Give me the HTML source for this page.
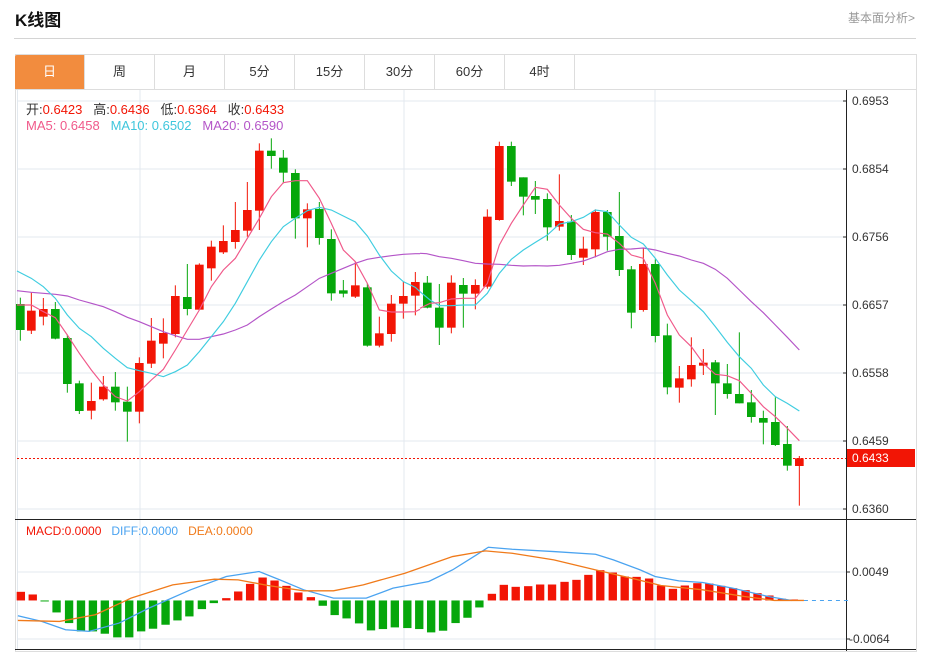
<!DOCTYPE html>
<html><head><meta charset="utf-8">
<style>
body{margin:0;width:929px;height:654px;background:#fff;position:relative;overflow:hidden;font-family:"Liberation Sans","Noto Sans CJK SC",sans-serif;}
.t{position:absolute;white-space:nowrap;}
.tab{position:absolute;top:55px;height:34px;width:70px;line-height:34px;text-align:center;font-size:13px;color:#333;border-right:1px solid #ddd;box-sizing:border-box;}
.ax{position:absolute;left:852px;font-size:12px;color:#333;}
svg{position:absolute;overflow:visible}
.r rect{fill:#f21505}.r line{stroke:#f21505}
.g rect{fill:#06a70b}.g line{stroke:#06a70b}
.r line,.g line{stroke-width:3}
</style></head><body>
<div class="t" style="left:15px;top:6px;font-size:17px;font-weight:bold;color:#111;">K线图</div>
<div class="t" style="left:848px;top:9px;font-size:12px;color:#999;">基本面分析&gt;</div>
<div style="position:absolute;left:14px;top:38px;width:902px;height:1px;background:#d4d4d4"></div>
<div style="position:absolute;left:15px;top:54px;width:900px;height:596px;border:1px solid #ddd;"></div>
<div style="position:absolute;left:15px;top:89px;width:901px;height:1px;background:#ddd"></div>
<div class="tab" style="left:15px;background:#f28c3e;color:#fff;border-radius:2px 0 0 0">日</div>
<div class="tab" style="left:85px">周</div>
<div class="tab" style="left:155px">月</div>
<div class="tab" style="left:225px">5分</div>
<div class="tab" style="left:295px">15分</div>
<div class="tab" style="left:365px">30分</div>
<div class="tab" style="left:435px">60分</div>
<div class="tab" style="left:505px">4时</div>

<svg width="929" height="654" style="left:0;top:0">
 <g stroke="#e3e9ef" stroke-width="1">
  <line x1="17" y1="101" x2="846" y2="101"/>
  <line x1="17" y1="169" x2="846" y2="169"/>
  <line x1="17" y1="237" x2="846" y2="237"/>
  <line x1="17" y1="305" x2="846" y2="305"/>
  <line x1="17" y1="373" x2="846" y2="373"/>
  <line x1="17" y1="441" x2="846" y2="441"/>
  <line x1="17" y1="509" x2="846" y2="509"/>
  <line x1="17.5" y1="90" x2="17.5" y2="650"/>
  <line x1="140" y1="90" x2="140" y2="650"/>
  <line x1="404" y1="90" x2="404" y2="650"/>
  <line x1="655" y1="90" x2="655" y2="650"/>
  <line x1="17" y1="572" x2="846" y2="572"/>
  <line x1="17" y1="639" x2="846" y2="639"/>
 </g>
 <line x1="17" y1="458.5" x2="846" y2="458.5" stroke="#f21505" stroke-width="1" stroke-dasharray="2,2"/>
 <line x1="846.5" y1="90" x2="846.5" y2="651" stroke="#222" stroke-width="1"/>
 <line x1="15" y1="519.5" x2="916" y2="519.5" stroke="#222" stroke-width="1"/>
 <line x1="15" y1="649.5" x2="916" y2="649.5" stroke="#222" stroke-width="1"/>
 <g stroke="#222" stroke-width="1">
  <line x1="843" y1="101" x2="846" y2="101"/><line x1="843" y1="169" x2="846" y2="169"/>
  <line x1="843" y1="237" x2="846" y2="237"/><line x1="843" y1="305" x2="846" y2="305"/>
  <line x1="843" y1="373" x2="846" y2="373"/><line x1="843" y1="441" x2="846" y2="441"/>
  <line x1="843" y1="509" x2="846" y2="509"/><line x1="846" y1="572" x2="850" y2="572"/>
  <line x1="846" y1="639" x2="850" y2="639"/>
 </g>
 <rect x="847" y="449" width="68" height="18" fill="#f21505"/>
</svg>

<div class="ax" style="top:94px">0.6953</div>
<div class="ax" style="top:162px">0.6854</div>
<div class="ax" style="top:230px">0.6756</div>
<div class="ax" style="top:298px">0.6657</div>
<div class="ax" style="top:366px">0.6558</div>
<div class="ax" style="top:434px">0.6459</div>
<div class="ax" style="top:451px;color:#fff">0.6433</div>
<div class="ax" style="top:502px">0.6360</div>
<div class="ax" style="top:565px">0.0049</div>
<div class="ax" style="top:632px;left:849px">-0.0064</div>

<div class="t" style="left:26px;top:99px;font-size:13px;color:#333">开:<span style="color:#f21505">0.6423</span>&nbsp;&nbsp; 高:<span style="color:#f21505">0.6436</span>&nbsp;&nbsp; 低:<span style="color:#f21505">0.6364</span>&nbsp;&nbsp; 收:<span style="color:#f21505">0.6433</span></div>
<div class="t" style="left:26px;top:118px;font-size:13px;"><span style="color:#f0598a">MA5: 0.6458</span>&nbsp;&nbsp; <span style="color:#3fc6dc">MA10: 0.6502</span>&nbsp;&nbsp; <span style="color:#b455c8">MA20: 0.6590</span></div>
<div class="t" style="left:26px;top:524px;font-size:12px;"><span style="color:#f21505">MACD:0.0000</span>&nbsp;&nbsp; <span style="color:#4aa3f0">DIFF:0.0000</span>&nbsp;&nbsp; <span style="color:#f07a1a">DEA:0.0000</span></div>

<svg x="0" y="0" width="420" height="320" viewBox="0 0 1260 960" style="left:0;top:130px">
<g class="g"><line x1="61" y1="503" x2="61" y2="632"/><rect x="48" y="522" width="26" height="78"/></g>
<g class="r"><line x1="94" y1="488" x2="94" y2="612"/><rect x="81" y="542" width="26" height="60"/></g>
<g class="r"><line x1="130" y1="504" x2="130" y2="586"/><rect x="117" y="537" width="26" height="23"/></g>
<g class="g"><line x1="166" y1="516" x2="166" y2="628"/><rect x="153" y="537" width="26" height="89"/></g>
<g class="g"><line x1="202" y1="614" x2="202" y2="788"/><rect x="189" y="624" width="26" height="138"/></g>
<g class="g"><line x1="238" y1="752" x2="238" y2="852"/><rect x="225" y="760" width="26" height="83"/></g>
<g class="r"><line x1="274" y1="758" x2="274" y2="868"/><rect x="261" y="813" width="26" height="29"/></g>
<g class="r"><line x1="310" y1="738" x2="310" y2="812"/><rect x="297" y="770" width="26" height="38"/></g>
<g class="g"><line x1="346" y1="726" x2="346" y2="842"/><rect x="333" y="770" width="26" height="47"/></g>
<g class="g"><line x1="382" y1="770" x2="382" y2="935"/><rect x="369" y="815" width="26" height="30"/></g>
<g class="r"><line x1="418" y1="682" x2="418" y2="880"/><rect x="405" y="699" width="26" height="146"/></g>
<g class="r"><line x1="454" y1="564" x2="454" y2="714"/><rect x="441" y="632" width="26" height="69"/></g>
<g class="r"><line x1="490" y1="565" x2="490" y2="685"/><rect x="477" y="609" width="26" height="32"/></g>
<g class="r"><line x1="526" y1="466" x2="526" y2="622"/><rect x="513" y="498" width="26" height="114"/></g>
<g class="g"><line x1="562" y1="402" x2="562" y2="556"/><rect x="549" y="501" width="26" height="36"/></g>
<g class="r"><line x1="598" y1="400" x2="598" y2="540"/><rect x="585" y="404" width="26" height="135"/></g>
<g class="r"><line x1="634" y1="332" x2="634" y2="452"/><rect x="621" y="350" width="26" height="65"/></g>
<g class="r"><line x1="670" y1="286" x2="670" y2="372"/><rect x="657" y="333" width="26" height="34"/></g>
<g class="r"><line x1="706" y1="216" x2="706" y2="356"/><rect x="693" y="300" width="26" height="36"/></g>
<g class="r"><line x1="742" y1="156" x2="742" y2="320"/><rect x="729" y="240" width="26" height="62"/></g>
<g class="r"><line x1="778" y1="40" x2="778" y2="300"/><rect x="765" y="62" width="26" height="180"/></g>
<g class="g"><line x1="814" y1="25" x2="814" y2="116"/><rect x="801" y="62" width="26" height="16"/></g>
<g class="g"><line x1="850" y1="60" x2="850" y2="160"/><rect x="837" y="83" width="26" height="45"/></g>
<g class="g"><line x1="886" y1="118" x2="886" y2="326"/><rect x="873" y="129" width="26" height="136"/></g>
<g class="r"><line x1="922" y1="220" x2="922" y2="352"/><rect x="909" y="238" width="26" height="27"/></g>
<g class="g"><line x1="958" y1="216" x2="958" y2="344"/><rect x="945" y="237" width="26" height="87"/></g>
<g class="g"><line x1="994" y1="298" x2="994" y2="512"/><rect x="981" y="327" width="26" height="163"/></g>
<g class="g"><line x1="1030" y1="450" x2="1030" y2="502"/><rect x="1017" y="481" width="26" height="10"/></g>
<g class="r"><line x1="1066" y1="396" x2="1066" y2="504"/><rect x="1053" y="466" width="26" height="34"/></g>
<g class="g"><line x1="1102" y1="460" x2="1102" y2="650"/><rect x="1089" y="472" width="26" height="175"/></g>
<g class="r"><line x1="1138" y1="560" x2="1138" y2="652"/><rect x="1125" y="610" width="26" height="37"/></g>
<g class="r"><line x1="1174" y1="495" x2="1174" y2="635"/><rect x="1161" y="521" width="26" height="91"/></g>
<g class="r"><line x1="1210" y1="456" x2="1210" y2="566"/><rect x="1197" y="498" width="26" height="23"/></g>
<g class="r"><line x1="1246" y1="426" x2="1246" y2="556"/><rect x="1233" y="456" width="26" height="41"/></g>
<g fill="none" stroke-width="3.5">
<polyline stroke="#b455c8" points="51,482 94,487 130,490 166,493 202,498 238,510 274,520 310,530 346,545 382,562 418,575 454,590 490,605 526,617 562,628 598,628 634,620 670,612 706,600 742,585 778,560 814,537 850,515 886,495 922,470 958,445 994,430 1030,415 1066,400 1102,388 1138,382 1174,377 1210,373 1246,371 1260,371"/>
<polyline stroke="#3fcde0" points="51,423 94,445 130,470 166,505 202,555 238,595 274,620 310,655 346,685 382,713 418,722 454,730 490,740 526,725 562,705 598,665 634,620 670,575 706,520 742,455 778,390 814,335 850,290 886,265 922,242 958,232 994,240 1030,258 1066,276 1102,318 1138,375 1174,423 1210,455 1246,472 1260,485"/>
<polyline stroke="#f0598a" points="51,525 94,525 130,545 166,563 202,615 238,670 274,720 310,765 346,800 382,813 418,785 454,750 490,718 526,660 562,600 598,540 634,470 670,420 706,385 742,325 778,265 814,200 850,158 886,152 922,152 958,205 994,280 1030,360 1066,395 1102,460 1138,540 1174,546 1210,546 1246,545 1260,538"/>
</g>
</svg>

<svg width="420" height="380" viewBox="0 0 1260 1140" style="left:420px;top:130px">
<g class="g"><line x1="22" y1="438" x2="22" y2="535"/><rect x="9" y="458" width="26" height="75"/></g>
<g class="g"><line x1="58" y1="462" x2="58" y2="645"/><rect x="45" y="533" width="26" height="60"/></g>
<g class="r"><line x1="94" y1="436" x2="94" y2="610"/><rect x="81" y="458" width="26" height="135"/></g>
<g class="g"><line x1="130" y1="444" x2="130" y2="593"/><rect x="117" y="465" width="26" height="26"/></g>
<g class="r"><line x1="166" y1="448" x2="166" y2="538"/><rect x="153" y="465" width="26" height="26"/></g>
<g class="r"><line x1="202" y1="238" x2="202" y2="476"/><rect x="189" y="260" width="26" height="210"/></g>
<g class="r"><line x1="238" y1="35" x2="238" y2="272"/><rect x="225" y="48" width="26" height="222"/></g>
<g class="g"><line x1="274" y1="35" x2="274" y2="168"/><rect x="261" y="48" width="26" height="107"/></g>
<g class="g"><line x1="310" y1="142" x2="310" y2="256"/><rect x="297" y="142" width="26" height="58"/></g>
<g class="g"><line x1="346" y1="153" x2="346" y2="252"/><rect x="333" y="198" width="26" height="11"/></g>
<g class="g"><line x1="382" y1="190" x2="382" y2="332"/><rect x="369" y="207" width="26" height="85"/></g>
<g class="r"><line x1="418" y1="133" x2="418" y2="302"/><rect x="405" y="273" width="26" height="17"/></g>
<g class="g"><line x1="454" y1="255" x2="454" y2="390"/><rect x="441" y="275" width="26" height="100"/></g>
<g class="r"><line x1="490" y1="320" x2="490" y2="405"/><rect x="477" y="356" width="26" height="27"/></g>
<g class="r"><line x1="526" y1="238" x2="526" y2="382"/><rect x="513" y="246" width="26" height="112"/></g>
<g class="g"><line x1="562" y1="240" x2="562" y2="362"/><rect x="549" y="246" width="26" height="74"/></g>
<g class="g"><line x1="598" y1="186" x2="598" y2="438"/><rect x="585" y="318" width="26" height="102"/></g>
<g class="g"><line x1="634" y1="408" x2="634" y2="595"/><rect x="621" y="418" width="26" height="130"/></g>
<g class="r"><line x1="670" y1="353" x2="670" y2="545"/><rect x="657" y="402" width="26" height="138"/></g>
<g class="g"><line x1="706" y1="388" x2="706" y2="637"/><rect x="693" y="402" width="26" height="216"/></g>
<g class="g"><line x1="742" y1="581" x2="742" y2="793"/><rect x="729" y="616" width="26" height="156"/></g>
<g class="r"><line x1="778" y1="708" x2="778" y2="818"/><rect x="765" y="745" width="26" height="28"/></g>
<g class="r"><line x1="814" y1="622" x2="814" y2="770"/><rect x="801" y="705" width="26" height="43"/></g>
<g class="r"><line x1="850" y1="657" x2="850" y2="735"/><rect x="837" y="698" width="26" height="9"/></g>
<g class="g"><line x1="886" y1="690" x2="886" y2="855"/><rect x="873" y="697" width="26" height="63"/></g>
<g class="g"><line x1="922" y1="702" x2="922" y2="806"/><rect x="909" y="760" width="26" height="32"/></g>
<g class="g"><line x1="958" y1="607" x2="958" y2="820"/><rect x="945" y="792" width="26" height="28"/></g>
<g class="g"><line x1="994" y1="780" x2="994" y2="878"/><rect x="981" y="817" width="26" height="44"/></g>
<g class="g"><line x1="1030" y1="842" x2="1030" y2="943"/><rect x="1017" y="864" width="26" height="14"/></g>
<g class="g"><line x1="1066" y1="802" x2="1066" y2="948"/><rect x="1053" y="876" width="26" height="69"/></g>
<g class="g"><line x1="1102" y1="888" x2="1102" y2="1022"/><rect x="1089" y="942" width="26" height="65"/></g>
<g class="r"><line x1="1138" y1="978" x2="1138" y2="1127"/><rect x="1125" y="985" width="26" height="23"/></g>
<g fill="none" stroke-width="3.5">
<polyline stroke="#b455c8" points="0,370 20,371 58,380 94,385 130,392 166,400 202,402 238,403 274,406 310,408 346,407 382,408 418,406 454,400 490,393 526,380 562,365 598,358 634,357 670,354 706,360 742,370 778,378 814,390 850,400 886,418 922,445 958,480 994,515 1030,548 1066,585 1102,622 1138,660"/>
<polyline stroke="#3fcde0" points="0,485 30,510 58,527 94,527 130,525 166,525 202,490 238,430 274,388 310,360 346,337 382,315 418,282 454,275 490,262 526,240 562,245 598,285 634,322 670,342 706,385 742,435 778,480 814,512 850,545 886,590 922,637 958,680 994,715 1030,765 1066,800 1102,820 1138,843"/>
<polyline stroke="#f0598a" points="0,535 30,520 58,518 94,507 130,505 166,505 202,460 238,345 274,280 310,225 346,172 382,178 418,225 454,265 490,298 526,308 562,312 598,340 634,375 670,385 706,460 742,555 778,615 814,650 850,700 886,733 922,737 958,752 994,790 1030,830 1066,860 1102,895 1138,932"/>
</g>
</svg>

<svg width="929" height="139" viewBox="0 0 1560 418" preserveAspectRatio="none" style="left:0;top:515px">
<line x1="1350" y1="257" x2="1425" y2="257" stroke="#4aa3f0" stroke-width="1" stroke-dasharray="4,4" vector-effect="non-scaling-stroke"/>
<g fill="#f21505">
<rect x="28" y="231" width="14" height="26"/><rect x="48" y="239" width="14" height="18"/>
<rect x="373" y="250" width="14" height="7"/><rect x="393" y="230" width="14" height="27"/><rect x="413" y="207" width="14" height="50"/><rect x="434" y="188" width="14" height="69"/><rect x="454" y="197" width="14" height="60"/><rect x="474" y="213" width="14" height="44"/><rect x="494" y="233" width="14" height="24"/><rect x="515" y="247" width="14" height="10"/>
<rect x="819" y="237" width="14" height="20"/><rect x="839" y="210" width="14" height="47"/><rect x="859" y="216" width="14" height="41"/><rect x="880" y="214" width="14" height="43"/><rect x="900" y="209" width="14" height="48"/><rect x="920" y="209" width="14" height="48"/><rect x="941" y="201" width="14" height="56"/><rect x="961" y="195" width="14" height="62"/><rect x="981" y="180" width="14" height="77"/><rect x="1001" y="166" width="14" height="91"/><rect x="1022" y="173" width="14" height="84"/><rect x="1042" y="185" width="14" height="72"/><rect x="1062" y="186" width="14" height="71"/><rect x="1083" y="191" width="14" height="66"/><rect x="1103" y="212" width="14" height="45"/><rect x="1123" y="222" width="14" height="35"/><rect x="1143" y="212" width="14" height="45"/><rect x="1164" y="205" width="14" height="52"/><rect x="1184" y="206" width="14" height="51"/><rect x="1204" y="213" width="14" height="44"/><rect x="1224" y="220" width="14" height="37"/><rect x="1245" y="226" width="14" height="31"/><rect x="1265" y="235" width="14" height="22"/><rect x="1285" y="242" width="14" height="15"/><rect x="1306" y="252" width="14" height="5"/><rect x="1326" y="254" width="14" height="3"/>
</g>
<g fill="#06a70b">
<rect x="68" y="257" width="14" height="3"/><rect x="88" y="257" width="14" height="36"/><rect x="109" y="257" width="14" height="68"/><rect x="129" y="257" width="14" height="93"/><rect x="149" y="257" width="14" height="93"/><rect x="169" y="257" width="14" height="100"/><rect x="190" y="257" width="14" height="111"/><rect x="210" y="257" width="14" height="111"/><rect x="230" y="257" width="14" height="93"/><rect x="250" y="257" width="14" height="85"/><rect x="271" y="257" width="14" height="73"/><rect x="291" y="257" width="14" height="60"/><rect x="311" y="257" width="14" height="48"/><rect x="332" y="257" width="14" height="26"/><rect x="352" y="257" width="14" height="8"/>
<rect x="535" y="257" width="14" height="16"/><rect x="555" y="257" width="14" height="44"/><rect x="575" y="257" width="14" height="54"/><rect x="596" y="257" width="14" height="69"/><rect x="616" y="257" width="14" height="90"/><rect x="636" y="257" width="14" height="86"/><rect x="656" y="257" width="14" height="81"/><rect x="677" y="257" width="14" height="83"/><rect x="697" y="257" width="14" height="86"/><rect x="717" y="257" width="14" height="96"/><rect x="737" y="257" width="14" height="91"/><rect x="758" y="257" width="14" height="68"/><rect x="778" y="257" width="14" height="52"/><rect x="798" y="257" width="14" height="21"/>
</g>
<polyline fill="none" stroke="#4aa3f0" stroke-width="1.3" vector-effect="non-scaling-stroke" points="30,303 70,320 110,345 150,350 200,325 250,280 320,225 380,185 435,170 470,195 510,225 560,250 615,250 660,220 720,200 760,165 800,120 820,97 860,103 930,110 1000,118 1030,135 1075,165 1100,185 1140,198 1180,203 1230,220 1290,245 1330,257"/>
<polyline fill="none" stroke="#f07a1a" stroke-width="1.3" vector-effect="non-scaling-stroke" points="30,317 100,320 160,300 220,250 290,210 360,193 400,195 450,212 510,228 560,228 610,210 680,175 760,125 815,108 860,115 930,135 1000,165 1060,190 1110,212 1180,225 1250,245 1300,257 1350,257"/>
</svg>
</body></html>
